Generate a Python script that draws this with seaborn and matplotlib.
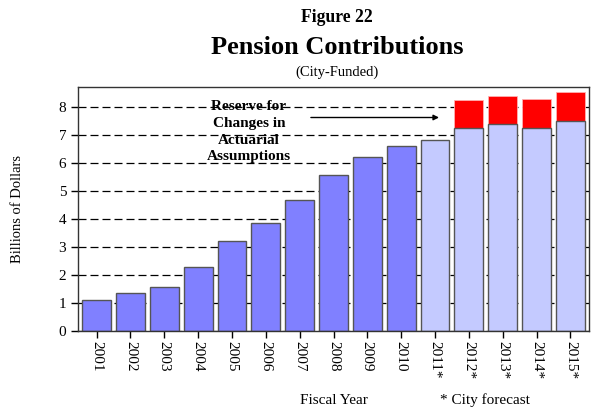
import matplotlib.pyplot as plt
import pandas as pd
import seaborn as sns

# data
years = ['2001', '2002', '2003', '2004', '2005', '2006', '2007', '2008',
         '2009', '2010', '2011*', '2012*', '2013*', '2014*', '2015*']
contributions = [1.11, 1.36, 1.56, 2.27, 3.20, 3.85, 4.68, 5.57,
                 6.21, 6.60, 6.83, 7.24, 7.38, 7.26, 7.52]
reserve = [0, 0, 0, 0, 0, 0, 0, 0, 0, 0, 0, 1.01, 1.02, 1.03, 1.03]
is_forecast = [False] * 10 + [True] * 5

df = pd.DataFrame({'year': years, 'base': contributions, 'reserve': reserve})
df['total'] = df['base'] + df['reserve']

sns.set_style('white')
plt.rcParams['font.family'] = ['Liberation Serif', 'DejaVu Serif']
plt.rcParams['text.color'] = 'black'
plt.rcParams['xtick.color'] = 'black'
plt.rcParams['ytick.color'] = 'black'

fig = plt.figure(figsize=(5.91, 4.09), dpi=100)
ax = fig.add_axes([78 / 591, 1 - 331 / 409, 511 / 591, 244 / 409])

# reserve: red bars drawn to full height, base bars on top
sns.barplot(data=df[df['reserve'] > 0], x='year', y='total', order=years,
            color='#ff0000', width=0.85, edgecolor='#ffb0b0', linewidth=0.6,
            saturation=1, ax=ax)
bar_colors = ['#c4caff' if f else '#8080ff' for f in is_forecast]
sns.barplot(data=df, x='year', y='base', hue='year', order=years,
            palette=bar_colors, width=0.85, edgecolor='#555555', linewidth=1,
            saturation=1, legend=False, ax=ax)

ax.set_ylim(0, 8.72)
ax.set_xlim(-0.55, 14.55)
ax.set_yticks(range(0, 9))
ax.yaxis.grid(True, color='black', linestyle=(0, (6.4, 3.2)), linewidth=0.9)
ax.set_axisbelow(True)
for s in ax.spines.values():
    s.set_color('#333333')
    s.set_linewidth(1)

ax.tick_params(axis='both', direction='out', length=5, width=1, color='black',
               labelsize=11, left=True, bottom=True)
ax.set_xticks(range(len(years)))
ax.set_xticklabels(years, rotation=270, ha='center', va='top')
ax.tick_params(axis='x', pad=2)
ax.set_xlabel('')
ax.set_ylabel('')

cx = 337 / 591
fig.text(cx, 1 - 18 / 409, 'Figure 22', ha='center', va='center',
         fontsize=12.7, fontweight='bold')
fig.text(cx, 1 - 47 / 409, 'Pension Contributions', ha='center',
         va='center', fontsize=19, fontweight='bold')
fig.text(cx, 1 - 72 / 409, '(City-Funded)', ha='center',
         va='center', fontsize=10.5)
fig.text(18 / 591, 1 - 209 / 409, 'Billions of Dollars', rotation=90, ha='center',
         va='center', fontsize=10.5)
fig.text(334 / 591, 1 - 400 / 409, 'Fiscal Year', ha='center', va='center', fontsize=11)
fig.text(485 / 591, 1 - 400 / 409, '* City forecast', ha='center', va='center', fontsize=11)

ax.text(4.5, 7.12, 'Reserve for\nChanges in\nActuarial\nAssumptions', ha='center',
        va='center', fontsize=11, fontweight='bold', linespacing=1.38)
ax.annotate('', xy=(10.2, 7.63), xytext=(6.25, 7.63),
            arrowprops=dict(arrowstyle='-|>', color='black', lw=1.0,
                            mutation_scale=8))

fig.savefig('out.png', dpi=100)
